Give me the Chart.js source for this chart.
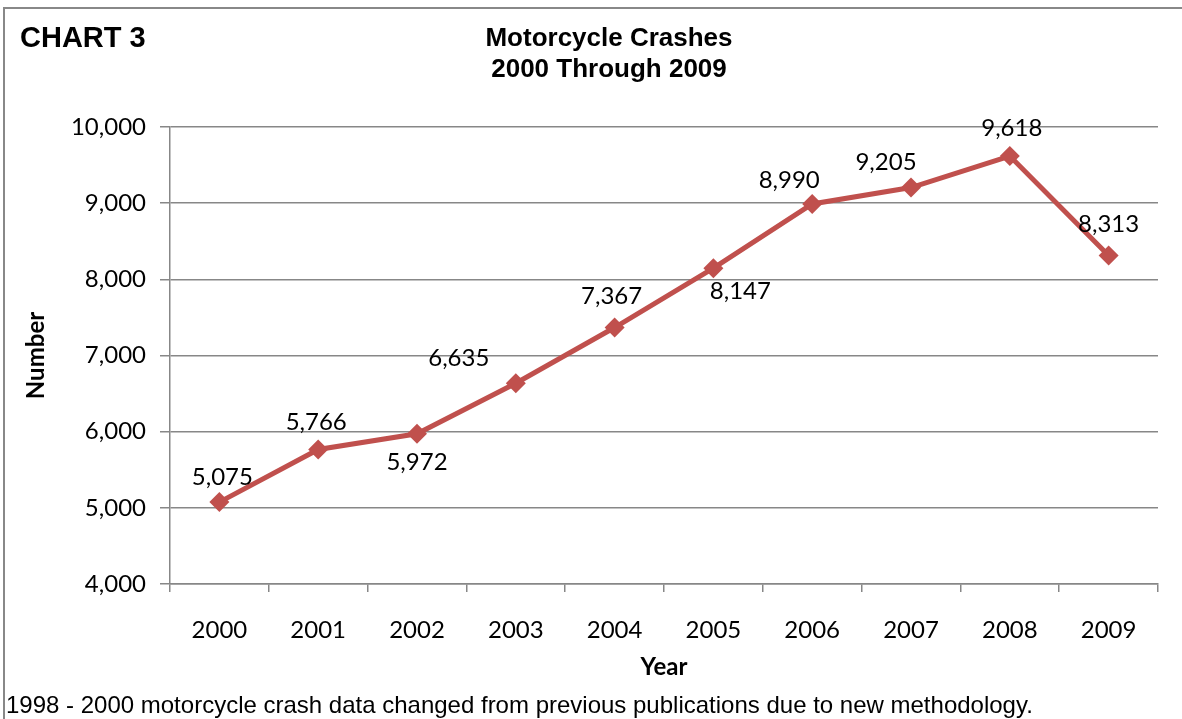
<!DOCTYPE html>
<html>
<head>
<meta charset="utf-8">
<script src="https://cdn.jsdelivr.net/npm/chart.js@4"></script>
<style>
  html, body { margin: 0; padding: 0; background: #fff; overflow: hidden; }
  #wrap { position: relative; width: 1182px; height: 719px; }
  #frame { position: absolute; left: 3px; top: 7px; width: 1200px; height: 730px; border: 2px solid #888; box-sizing: border-box; }
  canvas { position: absolute; left: 0; top: 0; }
  .txt { position: absolute; font-family: "Liberation Sans", Arial, sans-serif; color: #000; white-space: nowrap; }
  #label { left: 20px; top: 21px; font-size: 29px; font-weight: bold; }
  #title { left: 409px; width: 400px; top: 22px; font-size: 26px; font-weight: bold; text-align: center; line-height: 31px; }
  #note { left: 6px; top: 691px; font-size: 24px; }
</style>
</head>
<body>
<div id="wrap">
  <div id="frame"></div>
  <canvas id="chart" width="1182" height="719"></canvas>
  <div class="txt" id="label">CHART 3</div>
  <div class="txt" id="title">Motorcycle Crashes<br>2000 Through 2009</div>
  <div class="txt" id="note">1998 - 2000 motorcycle crash data changed from previous publications due to new methodology.</div>
</div>
<script>
const years = ["2000", "2001", "2002", "2003", "2004", "2005", "2006", "2007", "2008", "2009"]
const crashes = [5075, 5766, 5972, 6635, 7367, 8147, 8990, 9205, 9618, 8313]
const yTicks = [4000, 5000, 6000, 7000, 8000, 9000, 10000]

// where each value label sits relative to its point
const labelOffsets = [[3, -25], [-2, -27], [0, 28], [-57, -25], [-3, -31], [27, 23], [-23, -24], [-25, -25], [2, -28], [0, -31]]

const valueLabels = {
  id: "valueLabels",
  afterDatasetsDraw(chart) {
    const ctx = chart.ctx
    const meta = chart.getDatasetMeta(0)
    ctx.save()
    ctx.font = "24px Lato"
    ctx.fillStyle = "#000"
    ctx.textAlign = "center"
    ctx.textBaseline = "middle"
    meta.data.forEach((pt, i) => {
      const [dx, dy] = labelOffsets[i]
      ctx.fillText(crashes[i].toLocaleString("en-US"), pt.x + dx, pt.y + dy)
    })
    ctx.restore()
  }
}

const config = {
  type: "line",
  data: {
    labels: years,
    datasets: [{
      data: crashes,
      borderColor: "#C0504D",
      backgroundColor: "#C0504D",
      borderWidth: 5,
      pointStyle: "rectRot",
      pointRadius: 10,
      pointBorderWidth: 0,
      tension: 0
    }]
  },
  options: {
    responsive: false,
    animation: false,
    layout: { padding: { left: 10, right: 24, top: 127, bottom: 25 } },
    plugins: {
      legend: { display: false },
      tooltip: { enabled: false },
      title: { display: false }
    },
    scales: {
      x: {
        offset: true,
        grid: { offset: true, drawOnChartArea: false, color: "#878787", lineWidth: 1.5, tickLength: 8 },
        border: { color: "#878787", width: 1.5 },
        ticks: { color: "#000", font: { family: "Lato", size: 24 }, padding: 24, maxRotation: 0 },
        title: { display: true, text: "Year", color: "#000", font: { family: "Lato", size: 24, weight: "bold" }, padding: { top: 4, bottom: 12 } },
        afterFit(scale) { scale.height = 110 }
      },
      y: {
        min: 4000,
        max: 10000,
        afterBuildTicks(scale) { scale.ticks = yTicks.map(v => ({ value: v })) },
        grid: { color: "#878787", lineWidth: 1.5, tickLength: 10 },
        border: { color: "#878787", width: 1.5 },
        ticks: {
          color: "#000",
          font: { family: "Lato", size: 24 },
          padding: 14,
          callback: v => v.toLocaleString("en-US")
        },
        title: { display: true, text: "Number", color: "#000", font: { family: "Lato", size: 24, weight: "bold" }, padding: { top: 12, bottom: 4 } },
        afterFit(scale) { scale.width = 160 }
      }
    }
  },
  plugins: [valueLabels]
}

new Chart(document.getElementById("chart"), config)
</script>
</body>
</html>
